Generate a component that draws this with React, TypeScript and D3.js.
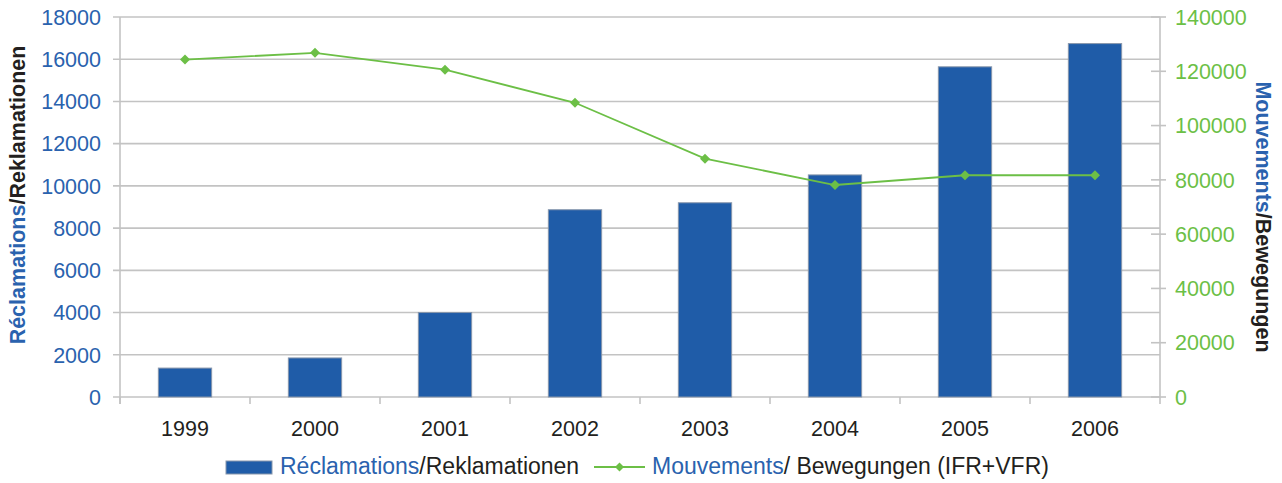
import React from "react";
import * as d3 from "d3";

const years = ["1999", "2000", "2001", "2002", "2003", "2004", "2005", "2006"];
const reclamations = [1370, 1850, 4000, 8870, 9200, 10520, 15640, 16740];
const mouvements = [124300, 126800, 120600, 108400, 87800, 78100, 81700, 81700];
const leftTicks = [0, 2000, 4000, 6000, 8000, 10000, 12000, 14000, 16000, 18000];
const rightTicks = [0, 20000, 40000, 60000, 80000, 100000, 120000, 140000];

const W = 1282;
const H = 483;
const M = { left: 120, right: 1160, top: 17, bottom: 397 };
const BLUE = "#1f5ca8";
const TXTBLUE = "#2a62ae";
const GREEN = "#6cbf46";
const GRID = "#c3c3c3";
const FONT = "'Liberation Sans', Arial, Helvetica, sans-serif";
const FS = 21.5;

export default function App() {
  const x = d3.scaleBand<string>().domain(years).range([M.left, M.right]).paddingInner(0).paddingOuter(0);
  const yL = d3.scaleLinear().domain([0, 18000]).range([M.bottom, M.top]);
  const yR = d3.scaleLinear().domain([0, 140000]).range([M.bottom, M.top]);
  const bw = x.bandwidth() * 0.41;
  const cx = (d: string) => (x(d) as number) + x.bandwidth() / 2;
  const line = d3
    .line<number>()
    .x((_, i) => cx(years[i]))
    .y((d) => yR(d));
  const diamond = (px: number, py: number, r = 5) =>
    `M${px},${py - r}L${px + r},${py}L${px},${py + r}L${px - r},${py}Z`;

  return (
    <svg width={W} height={H} style={{ position: "absolute", left: 0, top: 0, background: "#fff" }}>
      <rect x={0} y={0} width={W} height={H} fill="#fff" />
      {leftTicks.map((t) => (
        <line key={"g" + t} x1={M.left - 7} x2={M.right} y1={yL(t)} y2={yL(t)} stroke={GRID} strokeWidth={1.6} />
      ))}
      <line x1={M.left} x2={M.left} y1={M.top} y2={M.bottom + 7} stroke={GRID} strokeWidth={1.6} />
      {leftTicks.map((t) => (
        <text key={"l" + t} x={101} y={yL(t)} dy="0.36em" textAnchor="end" fill={TXTBLUE} fontSize={FS} fontFamily={FONT}>
          {t}
        </text>
      ))}
      <line x1={M.right} x2={M.right} y1={M.top} y2={M.bottom + 7} stroke={GRID} strokeWidth={1.6} />
      {rightTicks.map((t) => (
        <g key={"r" + t}>
          <line x1={M.right - 9} x2={M.right + 6} y1={yR(t)} y2={yR(t)} stroke={GRID} strokeWidth={1.6} />
          <text x={1175} y={yR(t)} dy="0.36em" textAnchor="start" fill={GREEN} fontSize={FS} fontFamily={FONT}>
            {t}
          </text>
        </g>
      ))}
      {years.map((yv) => (
        <line key={"bt" + yv} x1={x(yv) as number} x2={x(yv) as number} y1={M.bottom} y2={M.bottom + 7} stroke={GRID} strokeWidth={1.6} />
      ))}
      {years.map((yv) => (
        <text key={"xl" + yv} x={cx(yv)} y={436} textAnchor="middle" fill="#231f20" fontSize={FS} fontFamily={FONT}>
          {yv}
        </text>
      ))}
      {reclamations.map((v, i) => (
        <rect
          key={"b" + i}
          x={cx(years[i]) - bw / 2}
          y={yL(v)}
          width={bw}
          height={yL(0) - yL(v)}
          fill={BLUE}
          stroke="#8796ab"
          strokeWidth={1}
        />
      ))}
      <path d={line(mouvements) || ""} fill="none" stroke={GREEN} strokeWidth={1.8} />
      {mouvements.map((v, i) => (
        <path key={"m" + i} d={diamond(cx(years[i]), yR(v))} fill={GREEN} />
      ))}
      <text
        transform={`translate(25,195) rotate(-90)`}
        textAnchor="middle"
        fontSize={21.5}
        fontWeight="bold"
        fontFamily={FONT}
      >
        <tspan fill={TXTBLUE}>Réclamations</tspan>
        <tspan fill="#231f20">/Reklamationen</tspan>
      </text>
      <text
        transform={`translate(1256,217) rotate(90)`}
        textAnchor="middle"
        fontSize={21.5}
        fontWeight="bold"
        fontFamily={FONT}
      >
        <tspan fill={TXTBLUE}>Mouvements</tspan>
        <tspan fill="#231f20">/Bewegungen</tspan>
      </text>
      <rect x={226} y={461} width={46} height={13} fill={BLUE} stroke="#8796ab" strokeWidth={1} />
      <text x={280} y={474} fontSize={23} fontFamily={FONT}>
        <tspan fill={TXTBLUE}>Réclamations</tspan>
        <tspan fill="#231f20">/Reklamationen</tspan>
      </text>
      <line x1={594} x2={645} y1={467} y2={467} stroke={GREEN} strokeWidth={1.8} />
      <path d={diamond(619.5, 467, 4.5)} fill={GREEN} />
      <text x={652} y={474} fontSize={23} fontFamily={FONT}>
        <tspan fill={TXTBLUE}>Mouvements</tspan>
        <tspan fill="#231f20">/ Bewegungen (IFR+VFR)</tspan>
      </text>
    </svg>
  );
}
